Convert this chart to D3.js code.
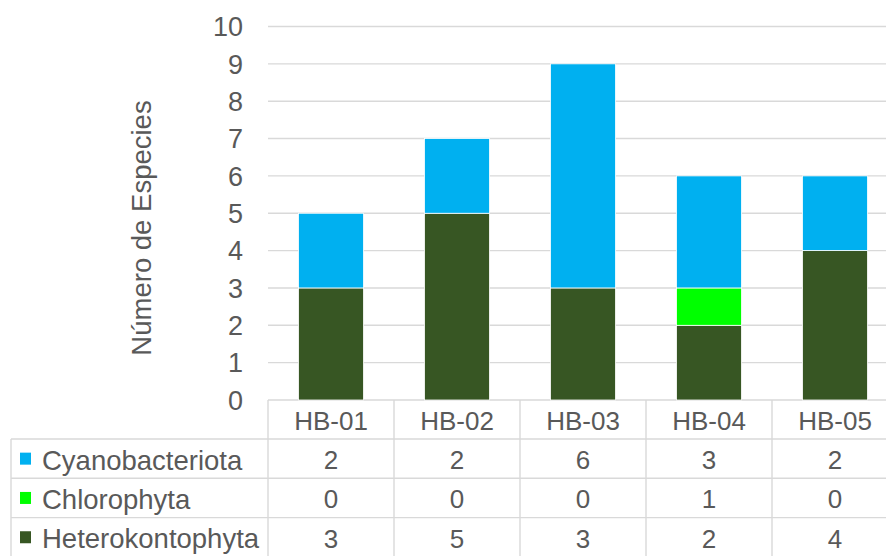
<!DOCTYPE html>
<html>
<head>
<meta charset="utf-8">
<script src="https://cdn.jsdelivr.net/npm/d3@7/dist/d3.min.js"></script>
<style>
  html, body { margin: 0; padding: 0; background: #fff; }
  svg { display: block; }
  text { font-family: "Liberation Sans", Arial, sans-serif; fill: #595959; }
</style>
</head>
<body>
<svg id="chart" width="886" height="556"></svg>
<script>
// Sampling stations
const categories = ["HB-01", "HB-02", "HB-03", "HB-04", "HB-05"];

// Species counts per phylum, per station
const heterokontophyta = [3, 5, 3, 2, 4];
const chlorophyta      = [0, 0, 0, 1, 0];
const cyanobacteriota  = [2, 2, 6, 3, 2];

const seriesNames  = ["Heterokontophyta", "Chlorophyta", "Cyanobacteriota"];
const seriesColors = ["#375623", "#00ff00", "#00b0f0"];
const yTicks = [0, 1, 2, 3, 4, 5, 6, 7, 8, 9, 10];
const yTitle = "Número de Especies";

// Stack input rows built from the arrays above
const rows = categories.map((c, i) => ({
  cat: c,
  Heterokontophyta: heterokontophyta[i],
  Chlorophyta: chlorophyta[i],
  Cyanobacteriota: cyanobacteriota[i]
}));

const svg = d3.select("#chart");
const W = 886, H = 556;
const plotLeft = 268, plotRight = 898, yBase = 400, yTop = 26.5;
const tableLeft = 11;
const headerH = 39, rowH = 39.3;
const font = 27.5;
const gridColor = "#d9d9d9";

const x = d3.scaleBand().domain(categories).range([plotLeft, plotRight])
  .paddingInner(0.484).paddingOuter(0.242);
const step = x.step();
const y = d3.scaleLinear().domain([0, 10]).range([yBase, yTop]);

// Horizontal gridlines
svg.append("g").selectAll("line").data(yTicks).join("line")
  .attr("x1", plotLeft).attr("x2", W)
  .attr("y1", d => y(d)).attr("y2", d => y(d))
  .attr("stroke", gridColor).attr("stroke-width", 1.4);

// Y tick labels
svg.append("g").selectAll("text").data(yTicks).join("text")
  .attr("x", 243).attr("y", d => y(d))
  .attr("dy", "0.36em")
  .attr("text-anchor", "end")
  .attr("font-size", 27)
  .text(d => d);

// Y axis title
svg.append("text")
  .attr("transform", "translate(151,228) rotate(-90)")
  .attr("text-anchor", "middle")
  .attr("font-size", font)
  .text(yTitle);

// Stacked bars
const stack = d3.stack().keys(seriesNames)(rows);
svg.append("g").selectAll("g").data(stack).join("g")
  .attr("fill", (d, i) => seriesColors[i])
  .selectAll("rect").data(d => d.filter(s => s[1] > s[0])).join("rect")
  .attr("x", d => x(d.data.cat))
  .attr("width", x.bandwidth())
  .attr("y", d => y(d[1]))
  .attr("height", d => y(d[0]) - y(d[1]))
  .attr("stroke", "#ffffff").attr("stroke-width", 0.8);

// Data table
const tbl = svg.append("g");
const tableTop = yBase + headerH;
const lineAttrs = sel => sel.attr("stroke", gridColor).attr("stroke-width", 1.4);

// column separators
const colEdges = categories.map(c => x(c) - (step - x.bandwidth()) / 2).concat([plotRight]);
tbl.selectAll("line.v").data(colEdges).join("line").attr("class", "v")
  .attr("x1", d => d).attr("x2", d => d)
  .attr("y1", yBase).attr("y2", H + 2)
  .call(lineAttrs);
// left border of the legend column
tbl.append("line")
  .attr("x1", tableLeft).attr("x2", tableLeft)
  .attr("y1", tableTop).attr("y2", H + 2)
  .call(lineAttrs);
// row separators
const tableRows = seriesNames.slice().reverse();
tbl.selectAll("line.h").data(d3.range(tableRows.length + 1)).join("line").attr("class", "h")
  .attr("x1", tableLeft).attr("x2", W)
  .attr("y1", i => tableTop + i * rowH).attr("y2", i => tableTop + i * rowH)
  .call(lineAttrs);

// header: station names
tbl.selectAll("text.cat").data(categories).join("text").attr("class", "cat")
  .attr("x", d => x(d) + x.bandwidth() / 2)
  .attr("y", yBase + headerH / 2 + 1)
  .attr("dy", "0.36em")
  .attr("text-anchor", "middle")
  .attr("font-size", 26)
  .text(d => d);

// rows: legend key, name, values
const seriesValues = {
  Cyanobacteriota: cyanobacteriota,
  Chlorophyta: chlorophyta,
  Heterokontophyta: heterokontophyta
};
tableRows.forEach((name, r) => {
  const cy = tableTop + r * rowH + rowH / 2 + 1;
  const color = seriesColors[seriesNames.indexOf(name)];
  tbl.append("rect")
    .attr("x", 20).attr("y", cy - 7)
    .attr("width", 11).attr("height", 12)
    .attr("fill", color);
  tbl.append("text")
    .attr("x", 42).attr("y", cy)
    .attr("dy", "0.36em")
    .attr("font-size", font)
    .text(name);
  tbl.selectAll(null).data(seriesValues[name]).join("text")
    .attr("x", (d, i) => x(categories[i]) + x.bandwidth() / 2)
    .attr("y", cy)
    .attr("dy", "0.36em")
    .attr("text-anchor", "middle")
    .attr("font-size", 26)
    .text(d => d);
});
</script>
</body>
</html>
